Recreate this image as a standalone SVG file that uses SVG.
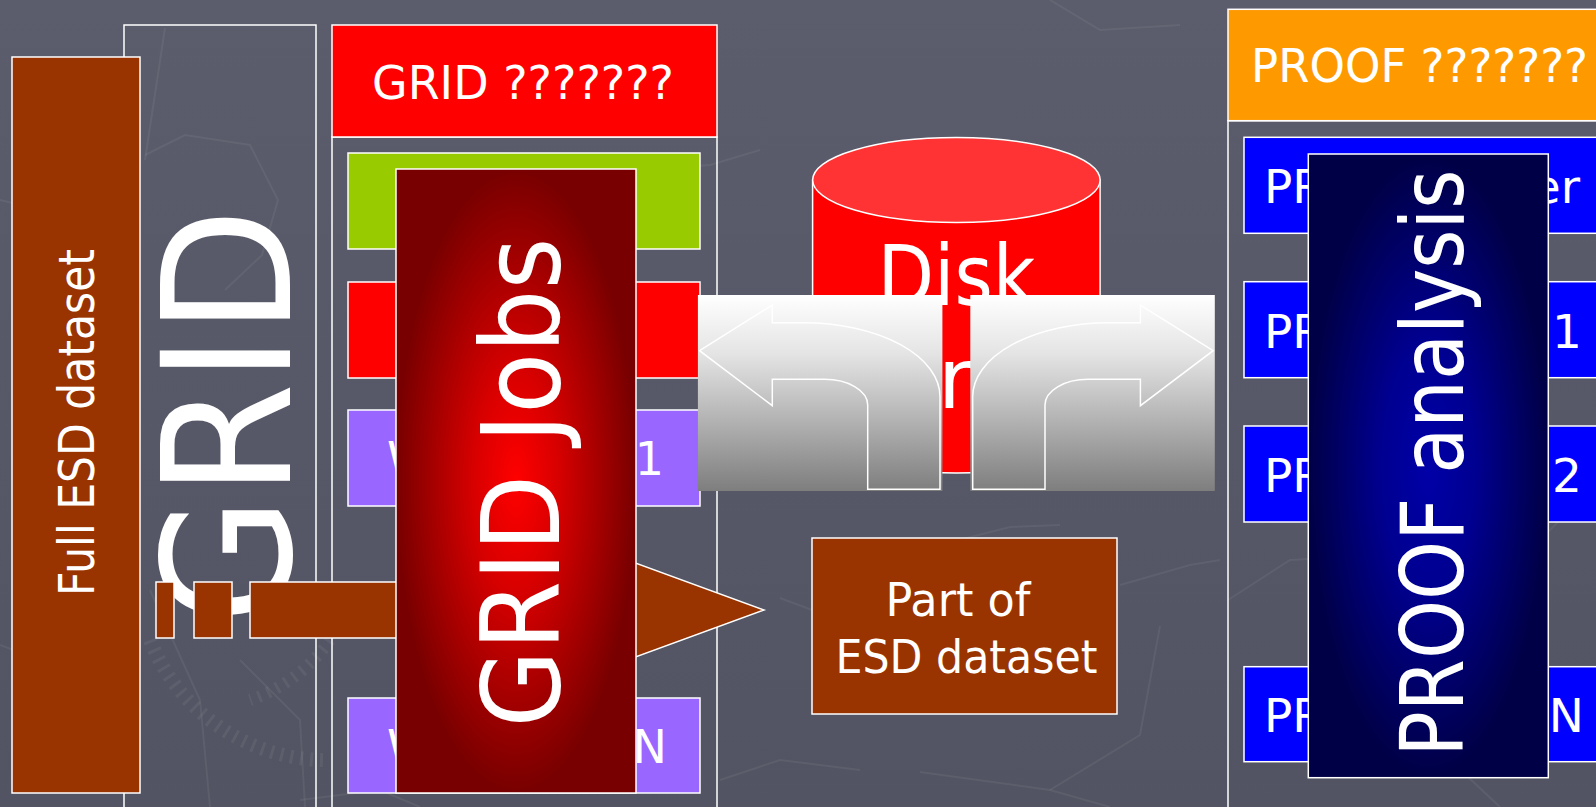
<svg xmlns="http://www.w3.org/2000/svg" width="1596" height="807" viewBox="0 0 1596 807">
  <defs>
    <style>
      .lbl { font-family: "DejaVu Sans", Verdana, "Liberation Sans", sans-serif; fill: #FFFFFF; }
      .box { stroke: #FFFFFF; stroke-width: 1.5; }
      .frame { fill: none; stroke: #FFFFFF; stroke-width: 1.5; }
      .deco { fill: none; stroke: #FFFFFF; stroke-opacity: 0.06; stroke-width: 2; }
    </style>
    <linearGradient id="bg" x1="0" y1="0" x2="0" y2="1">
      <stop offset="0" stop-color="#5B5D6C"/>
      <stop offset="1" stop-color="#525463"/>
    </linearGradient>
    <radialGradient id="jobsFill" cx="0.5" cy="0.5" r="0.5">
      <stop offset="0" stop-color="#FF0000"/>
      <stop offset="0.35" stop-color="#D80000"/>
      <stop offset="1" stop-color="#780000"/>
    </radialGradient>
    <radialGradient id="proofFill" cx="0.5" cy="0.5" r="0.5">
      <stop offset="0" stop-color="#0000A8"/>
      <stop offset="0.4" stop-color="#000090"/>
      <stop offset="1" stop-color="#000046"/>
    </radialGradient>
    <linearGradient id="turnFill" x1="0" y1="0" x2="0" y2="1">
      <stop offset="0" stop-color="#FFFFFF"/>
      <stop offset="0.3" stop-color="#E4E4E4"/>
      <stop offset="1" stop-color="#7E7E7E"/>
    </linearGradient>
    <!-- bent arrow outline, drawn once and mirrored for the right-hand turn -->
    <path id="turnOutline" d="M699.6,350.7 L772.3,305 V322.7 H804 A136,74 0 0 1 940,396.7 V489.3 H867.7 V405 A43.1,25.7 0 0 0 824.6,379.3 H772.3 V405.7 Z"/>
  </defs>

  <!-- backdrop -->
  <rect x="0" y="0" width="1596" height="807" fill="url(#bg)"/>
  <g id="backdrop-lines" class="deco">
    <polyline points="145,160 165,28"/>
    <polyline points="145,155 185,135 250,145 278,200 262,255 225,290"/>
    <polyline points="0,200 60,215 130,205"/>
    <polyline points="0,645 40,660 110,655"/>
    <polyline points="150,590 200,700 210,807"/>
    <polyline points="240,660 300,720 305,807"/>
    <polyline points="640,170 710,165 760,150"/>
    <polyline points="820,540 830,575 880,560 1010,527 1060,525"/>
    <polyline points="780,598 812,610"/>
    <polyline points="1120,585 1190,565 1220,560"/>
    <polyline points="1160,626 1140,735 1050,790"/>
    <polyline points="920,772 1050,790 1110,807"/>
    <polyline points="720,780 780,760 860,770"/>
    <polyline points="1050,0 1100,30 1180,25"/>
    <polyline points="1228,600 1290,560 1380,555"/>
    <polyline points="1520,560 1560,520 1596,500"/>
    <polyline points="1450,760 1500,807"/>
    <polyline points="300,800 380,790 420,807"/>
    <path d="M150,640 A190,190 0 0 0 330,760" stroke-dasharray="3,7" stroke-width="14"/>
    <path d="M330,640 A160,160 0 0 1 250,700" stroke-dasharray="3,7" stroke-width="12"/>
  </g>

  <!-- GRID column -->
  <g id="grid-frame">
    <rect class="frame" x="124" y="25" width="192" height="800"/>
  </g>

  <g id="full-esd-dataset">
    <rect class="box" x="12" y="57" width="128" height="736" fill="#993300"/>
    <text class="lbl" transform="translate(94.3,422.5) rotate(-90)" font-size="49" text-anchor="middle" textLength="347" lengthAdjust="spacingAndGlyphs">Full ESD dataset</text>
  </g>

  <g id="grid-title">
    <text class="lbl" transform="translate(290,416) rotate(-90)" font-size="178" text-anchor="middle" textLength="416" lengthAdjust="spacingAndGlyphs">GRID</text>
  </g>

  <!-- GRID services panel -->
  <g id="grid-panel">
    <rect class="frame" x="332" y="137" width="385" height="690"/>
    <rect class="box" x="332" y="25" width="385" height="112" fill="#FF0000"/>
    <text class="lbl" x="372" y="99" font-size="46" textLength="302" lengthAdjust="spacingAndGlyphs">GRID ???????</text>
  </g>
  <g id="grid-service-green">
    <rect class="box" x="348" y="153" width="352" height="96" fill="#99CC00"/>
  </g>
  <g id="grid-service-red">
    <rect class="box" x="348" y="282" width="352" height="96" fill="#FF0000"/>
  </g>
  <g id="grid-worker-1">
    <rect class="box" x="348" y="410" width="352" height="96" fill="#9966FF"/>
    <text class="lbl" x="387" y="475" font-size="46">W</text>
    <text class="lbl" x="664" y="475" font-size="46" text-anchor="end">1</text>
  </g>
  <g id="grid-worker-n">
    <rect class="box" x="348" y="698" width="352" height="95" fill="#9966FF"/>
    <text class="lbl" x="387" y="763" font-size="46">W</text>
    <text class="lbl" x="667" y="763" font-size="46" text-anchor="end">N</text>
  </g>

  <!-- striped block arrow carrying the dataset through the jobs -->
  <g id="connectors">
    <g id="dataset-arrow" fill="#993300" stroke="#FFFFFF" stroke-width="1.5">
      <rect x="156" y="582" width="18" height="56"/>
      <rect x="194" y="582" width="38" height="56"/>
      <polygon points="250,582 600,582 600,550 764,610 600,670 600,638 250,638"/>
    </g>
  </g>

  <g id="grid-jobs">
    <rect class="box" x="396" y="169" width="240" height="624" fill="url(#jobsFill)"/>
    <text class="lbl" transform="translate(559,482.5) rotate(-90)" font-size="108" text-anchor="middle" textLength="490" lengthAdjust="spacingAndGlyphs">GRID Jobs</text>
  </g>

  <!-- disk store -->
  <g id="disk">
    <path class="box" d="M812.6,180 V430.5 A143.75,42.5 0 0 0 1100.1,430.5 V180 Z" fill="#FF0000"/>
    <ellipse class="box" cx="956.4" cy="180" rx="143.75" ry="42.5" fill="#FF3333"/>
    <text class="lbl" x="956.4" y="305" font-size="84" text-anchor="middle" textLength="158" lengthAdjust="spacingAndGlyphs">Disk</text>
    <text class="lbl" x="938" y="408" font-size="84">r</text>
  </g>

  <!-- turn arrows over the disk -->
  <g id="turn-left">
    <rect x="697.9" y="295" width="244.5" height="196" fill="url(#turnFill)"/>
    <use href="#turnOutline" class="frame"/>
  </g>
  <g id="turn-right" transform="matrix(-1 0 0 1 1912.7 0)">
    <rect x="697.9" y="295" width="244.5" height="196" fill="url(#turnFill)"/>
    <use href="#turnOutline" class="frame"/>
  </g>

  <g id="part-esd-dataset">
    <rect class="box" x="812" y="538" width="305" height="176" fill="#993300"/>
    <text class="lbl" x="958" y="616" font-size="47" text-anchor="middle" textLength="145" lengthAdjust="spacingAndGlyphs">Part of</text>
    <text class="lbl" x="966.5" y="673" font-size="47" text-anchor="middle" textLength="262" lengthAdjust="spacingAndGlyphs">ESD dataset</text>
  </g>

  <!-- PROOF panel -->
  <g id="proof-panel">
    <rect class="frame" x="1228" y="120.7" width="400" height="710"/>
    <rect class="box" x="1228" y="9.3" width="400" height="111.4" fill="#FF9900"/>
    <text class="lbl" x="1251" y="82" font-size="46" textLength="337" lengthAdjust="spacingAndGlyphs">PROOF ???????</text>
  </g>
  <g id="proof-master">
    <rect class="box" x="1244" y="137.3" width="380" height="96" fill="#0000FF"/>
    <text class="lbl" x="1264" y="203" font-size="47">PR</text>
    <text class="lbl" x="1580" y="203" font-size="47" text-anchor="end">er</text>
  </g>
  <g id="proof-slave-1">
    <rect class="box" x="1244" y="281.7" width="380" height="96" fill="#0000FF"/>
    <text class="lbl" x="1264" y="348" font-size="47">PR</text>
    <text class="lbl" x="1582" y="348" font-size="47" text-anchor="end">1</text>
  </g>
  <g id="proof-slave-2">
    <rect class="box" x="1244" y="426" width="380" height="96" fill="#0000FF"/>
    <text class="lbl" x="1264" y="492" font-size="47">PR</text>
    <text class="lbl" x="1582" y="492" font-size="47" text-anchor="end">2</text>
  </g>
  <g id="proof-slave-n">
    <rect class="box" x="1244" y="666.7" width="380" height="95" fill="#0000FF"/>
    <text class="lbl" x="1264" y="732" font-size="47">PR</text>
    <text class="lbl" x="1584" y="732" font-size="47" text-anchor="end">N</text>
  </g>

  <g id="proof-analysis">
    <rect class="box" x="1308.3" y="154" width="240" height="623.7" fill="url(#proofFill)"/>
    <text class="lbl" transform="translate(1462.7,463) rotate(-90)" font-size="87" text-anchor="middle" textLength="587" lengthAdjust="spacingAndGlyphs">PROOF analysis</text>
  </g>
</svg>
